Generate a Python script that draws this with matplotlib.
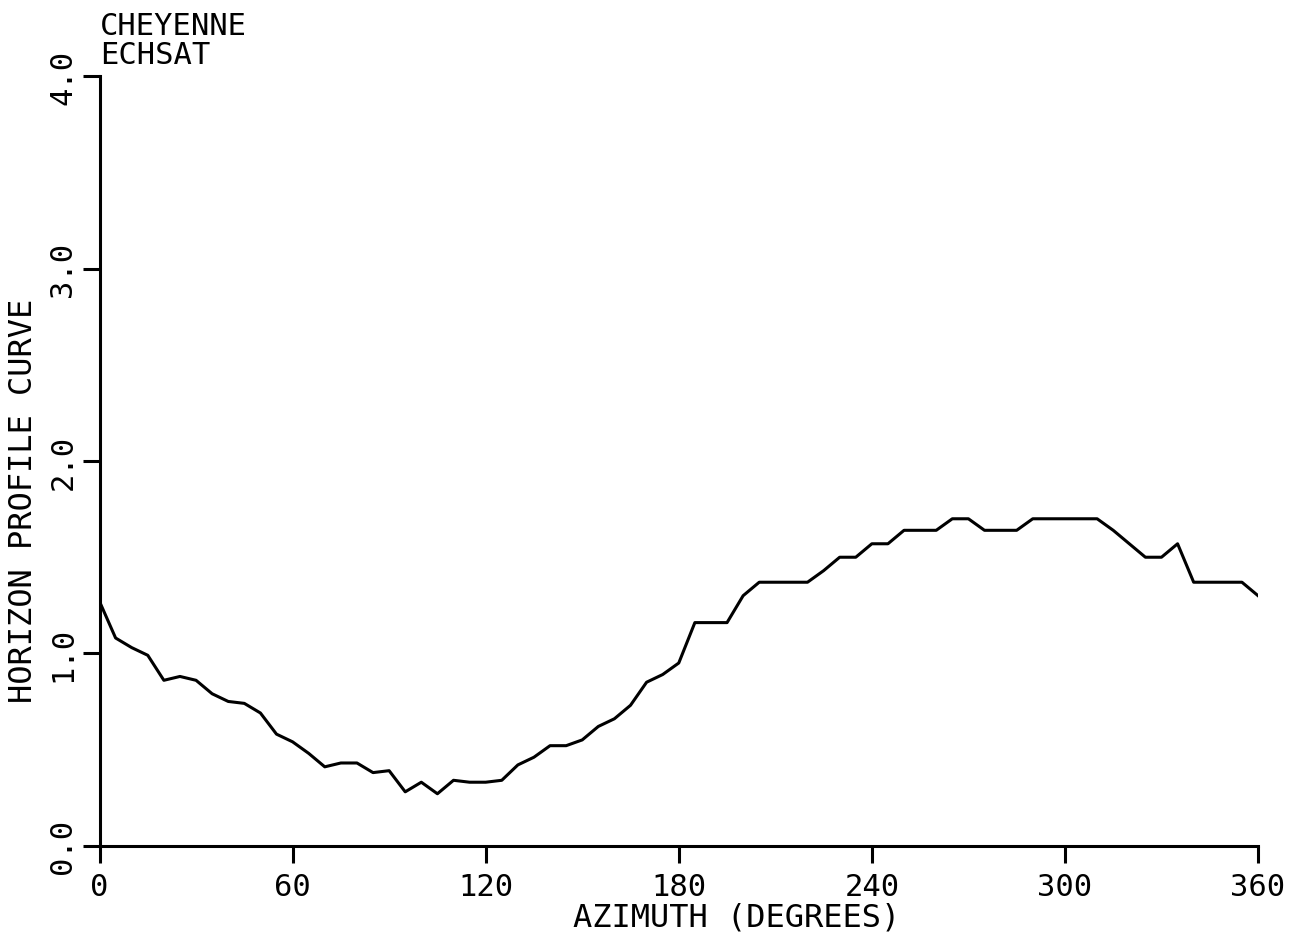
import matplotlib.pyplot as plt
import numpy as np

# azimuth every 5 degrees
azimuth = np.arange(0, 365, 5)
profile = [1.27, 1.08, 1.03, 0.99, 0.86, 0.88, 0.86, 0.79, 0.75, 0.74,
           0.69, 0.58, 0.54, 0.48, 0.41, 0.43, 0.43, 0.38, 0.39, 0.28,
           0.33, 0.27, 0.34, 0.33, 0.33, 0.34, 0.42, 0.46, 0.52, 0.52,
           0.55, 0.62, 0.66, 0.73, 0.85, 0.89, 0.95, 1.16, 1.16, 1.16,
           1.30, 1.37, 1.37, 1.37, 1.37, 1.43, 1.50, 1.50, 1.57, 1.57,
           1.64, 1.64, 1.64, 1.70, 1.70, 1.64, 1.64, 1.64, 1.70, 1.70,
           1.70, 1.70, 1.70, 1.64, 1.57, 1.50, 1.50, 1.57, 1.37, 1.37,
           1.37, 1.37, 1.30]
xticks = [0, 60, 120, 180, 240, 300, 360]
yticks = [0.0, 1.0, 2.0, 3.0, 4.0]
title_lines = ['CHEYENNE', 'ECHSAT']

plt.rcParams['font.family'] = ['DejaVu Sans Mono']

fig = plt.figure(figsize=(13.11, 9.37), dpi=100)
ax = fig.add_axes([0.0759, 0.0964, 0.8837, 0.8209])

ax.plot(azimuth, profile, color='black', linewidth=2.2)
ax.set_xlim(0, 360)
ax.set_ylim(0, 4.0)

ax.spines['top'].set_visible(False)
ax.spines['right'].set_visible(False)
ax.spines['left'].set_linewidth(2.2)
ax.spines['bottom'].set_linewidth(2.2)

ax.set_xticks(xticks)
ax.set_xticklabels([str(v) for v in xticks], fontsize=22)
ax.set_yticks(yticks)
ax.set_yticklabels(['%.1f' % v for v in yticks], fontsize=22,
                   rotation=90, va='center')
ax.tick_params(axis='both', direction='out', length=12, width=2.2)
ax.tick_params(axis='x', pad=7)
ax.tick_params(axis='y', pad=4)

ax.set_xlabel('AZIMUTH (DEGREES)', fontsize=23)
ax.xaxis.set_label_coords(0.55, -0.073)
ax.set_ylabel('HORIZON PROFILE CURVE', fontsize=23)
ax.yaxis.set_label_coords(-0.052, 0.45)

fig.text(100 / 1311, 1 - 12 / 937, '\n'.join(title_lines), fontsize=22,
         va='top', ha='left', linespacing=1.0)

fig.savefig('out.png', dpi=100)
